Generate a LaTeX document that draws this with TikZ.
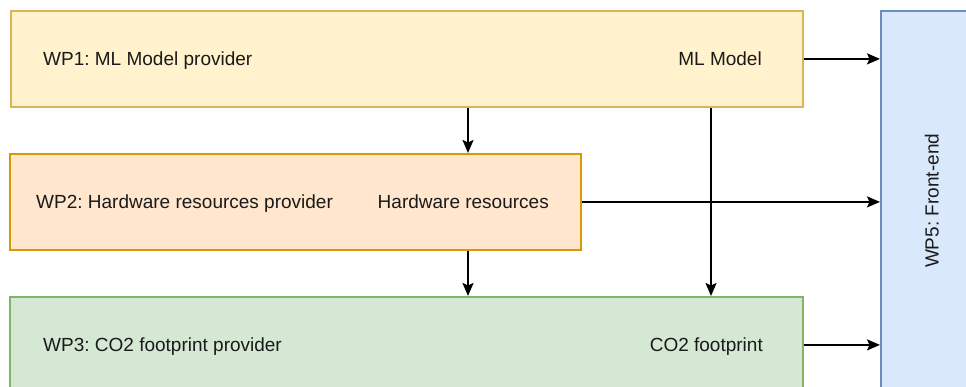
\documentclass[tikz,border=0pt]{standalone}
\usepackage{fontspec}
\setmainfont{Liberation Sans}
\frenchspacing
\usetikzlibrary{arrows.meta}
\definecolor{ylwfill}{HTML}{FFF2CC}\definecolor{ylwline}{HTML}{D6B656}
\definecolor{orgfill}{HTML}{FFE6CC}\definecolor{orgline}{HTML}{D79B00}
\definecolor{grnfill}{HTML}{D5E8D4}\definecolor{grnline}{HTML}{82B366}
\definecolor{blufill}{HTML}{DAE8FC}\definecolor{bluline}{HTML}{6C8EBF}
\definecolor{txt}{HTML}{1A1A1A}
\tikzset{
  wpbox/.style={draw, line width=1.8pt, rectangle, inner sep=0pt, anchor=north west},
  lbl/.style={inner sep=0pt, text=txt, font=\fontsize{19}{22}\selectfont},
  arr/.style={line width=1.8pt, draw=black, -{Stealth[length=13pt,width=11pt,inset=2.5pt]}}
}
\begin{document}
\begin{tikzpicture}[x=1pt,y=-1pt]
\useasboundingbox (0,0) rectangle (966,387);
\clip (0,0) rectangle (966,387);
% work-package boxes
\node[wpbox, fill=ylwfill, draw=ylwline, minimum width=792pt, minimum height=96pt] (wp1) at (10,10) {};
\node[wpbox, fill=orgfill, draw=orgline, minimum width=571pt, minimum height=96pt] (wp2) at (9,153) {};
\node[wpbox, fill=grnfill, draw=grnline, minimum width=793pt, minimum height=96pt] (wp3) at (9,296) {};
\node[wpbox, fill=blufill, draw=bluline, minimum width=102pt, minimum height=380pt] (wp5) at (880,10) {};
% labels
\node[lbl, anchor=base west] (t1) at (43,65.5) {WP1: ML Model provider};
\node[lbl, anchor=base east] (o1) at (762,65.5) {ML Model};
\node[lbl, anchor=base west] (t2) at (36,208.5) {WP2: Hardware resources provider};
\node[lbl, anchor=base east] (o2) at (549,208.5) {Hardware resources};
\node[lbl, anchor=base west] (t3) at (43,351) {WP3: CO2 footprint provider};
\node[lbl, anchor=base east] (o3) at (763,351) {CO2 footprint};
\node[lbl, rotate=90] (t5) at (wp5.center) {WP5: Front-end};
% columns of the vertical connectors
\coordinate (colA) at (468,0);
\coordinate (colB) at (711,0);
% connectors
\draw[arr] (wp1.east) -- (wp5.west |- wp1.east);
\draw[arr] (wp2.east) -- (wp5.west |- wp2.east);
\draw[arr] (wp3.east) -- (wp5.west |- wp3.east);
\draw[arr] (wp1.south -| colA) -- (wp2.north -| colA);
\draw[arr] (wp2.south -| colA) -- (wp3.north -| colA);
\draw[arr] (wp1.south -| colB) -- (wp3.north -| colB);
\end{tikzpicture}
\end{document}
